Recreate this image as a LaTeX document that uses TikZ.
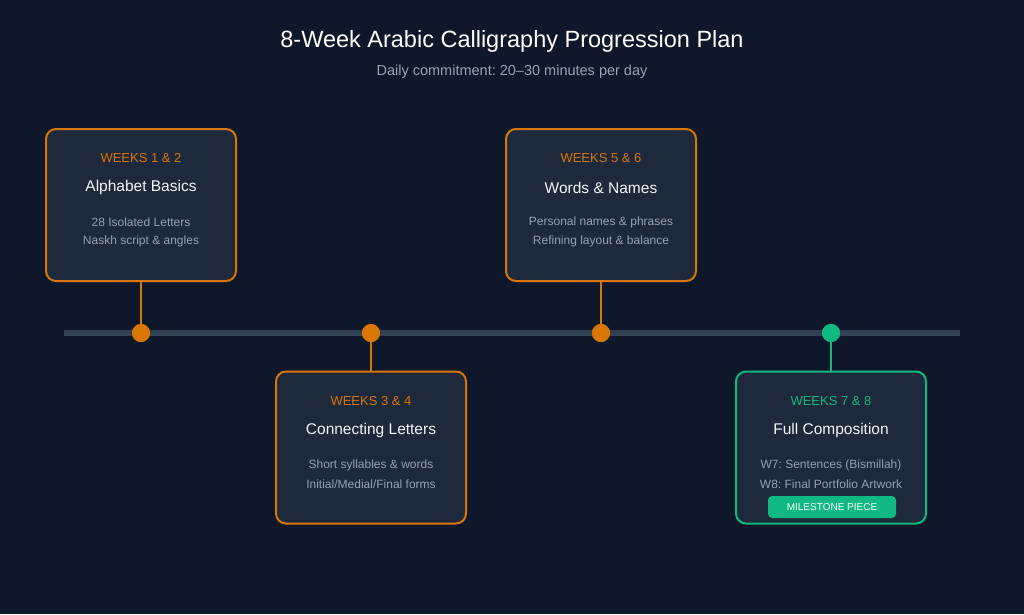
\documentclass[tikz,border=0pt]{standalone}
\usepackage{fontspec}
\setmainfont{Liberation Sans}
\frenchspacing
\definecolor{bg}{HTML}{0F172A}
\definecolor{card}{HTML}{1E293B}
\definecolor{org}{HTML}{D97706}
\definecolor{grn}{HTML}{10B981}
\definecolor{bar}{HTML}{334155}
\definecolor{muted}{HTML}{94A3B8}
\definecolor{txt}{HTML}{F1F5F9}
\tikzset{
  card/.style={draw=#1, line width=2pt, fill=card, rounded corners=10pt, minimum width=190pt, minimum height=152pt, inner sep=0pt},
  wk/.style={text=#1, font=\fontsize{13}{15}\selectfont},
  ttl/.style={text=txt, font=\fontsize{15.5}{18}\selectfont},
  det/.style={text=muted, font=\fontsize{12}{14}\selectfont},
  dot/.style={circle, fill=#1, minimum size=18pt, inner sep=0pt},
  stem/.style={draw=#1, line width=2pt},
}
\begin{document}
\begin{tikzpicture}[x=1pt,y=-1pt]
\fill[bg] (0,0) rectangle (1024,614);
\useasboundingbox (0,0) rectangle (1024,614);
\node[text=white, font=\fontsize{23.5}{28}\selectfont] (title) at (512,41) {8-Week Arabic Calligraphy Progression Plan};
\node[text=muted, font=\fontsize{14.5}{17}\selectfont] (sub) at (512,72) {Daily commitment: 20–30 minutes per day};
\coordinate (bl) at (64,333);
\coordinate (br) at (960,333);
\draw[bar, line width=6pt] (bl) -- (br);
% cards
\node[card=org] (c1) at (141,205) {};
\node[card=org] (c2) at (371,447.5) {};
\node[card=org] (c3) at (601,205) {};
\node[card=grn] (c4) at (831,447.5) {};
% dots
\node[dot=org] (d1) at (141,333) {};
\node[dot=org] (d2) at (371,333) {};
\node[dot=org] (d3) at (601,333) {};
\node[dot=grn] (d4) at (831,333) {};
\draw[stem=org] (c1.south) -- (d1.center);
\draw[stem=org] (c3.south) -- (d3.center);
\draw[stem=org] (c2.north) -- (d2.center);
\draw[stem=grn] (c4.north) -- (d4.center);
\node[dot=org] at (d1) {};
\node[dot=org] at (d2) {};
\node[dot=org] at (d3) {};
\node[dot=grn] at (d4) {};
% texts card 1
\node[wk=org] (w1) at (141,158) {WEEKS 1 \& 2};
\node[ttl] (t1) at (141,187.5) {Alphabet Basics};
\node[det] (a1) at (141,222) {28 Isolated Letters};
\node[det] (b1) at (141,241) {Naskh script \& angles};
% card 2
\node[wk=org] (w2) at (371,401) {WEEKS 3 \& 4};
\node[ttl] (t2) at (371,430.5) {Connecting Letters};
\node[det] (a2) at (371,465) {Short syllables \& words};
\node[det] (b2) at (371,484) {Initial/Medial/Final forms};
% card 3
\node[wk=org] (w3) at (601,158) {WEEKS 5 \& 6};
\node[ttl] (t3) at (601,187.5) {Words \& Names};
\node[det] (a3) at (601,222) {Personal names \& phrases};
\node[det] (b3) at (601,241) {Refining layout \& balance};
% card 4
\node[wk=grn] (w4) at (831,401) {WEEKS 7 \& 8};
\node[ttl] (t4) at (831,430.5) {Full Composition};
\node[det] (a4) at (831,465) {W7: Sentences (Bismillah)};
\node[det] (b4) at (831,484) {W8: Final Portfolio Artwork};
\node[fill=grn, rounded corners=4pt, minimum width=128pt, minimum height=22pt, inner sep=0pt, text=white, font=\fontsize{10}{12}\selectfont] (ms) at (832,507) {MILESTONE PIECE};
\end{tikzpicture}
\end{document}
